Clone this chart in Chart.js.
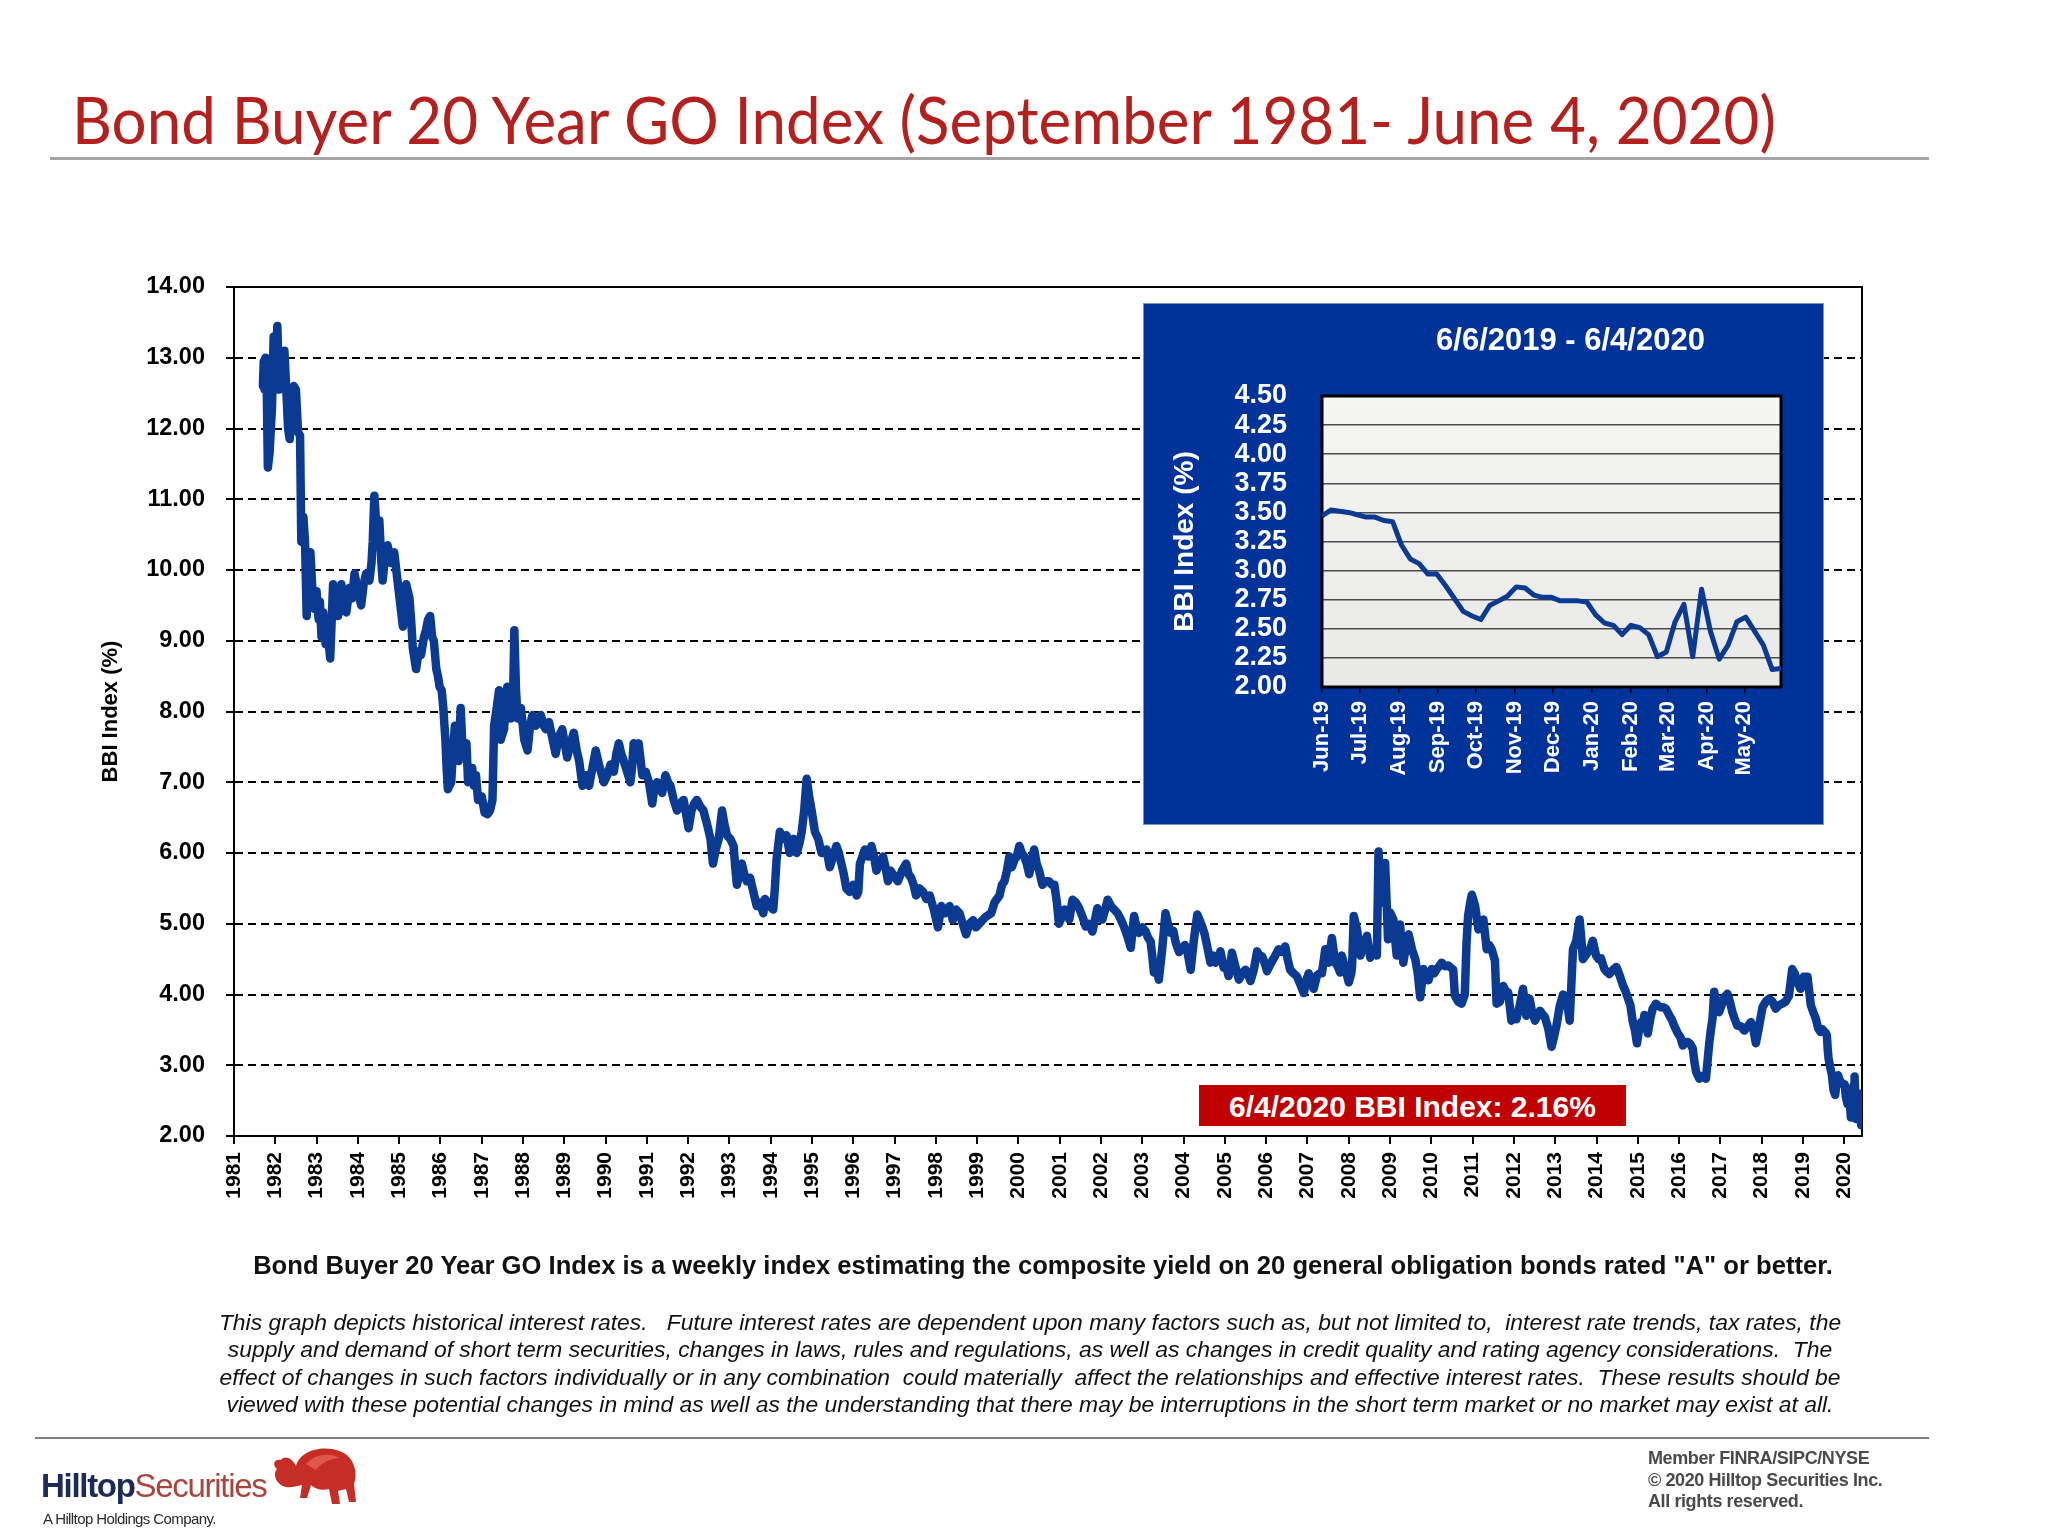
<!DOCTYPE html>
<html>
<head>
<meta charset="utf-8">
<script src="https://cdn.jsdelivr.net/npm/chart.js@4.4.1/dist/chart.umd.min.js"></script>
<style>
  html, body { margin: 0; padding: 0; background: #fff; }
  body { width: 2048px; height: 1536px; position: relative; overflow: hidden; font-family: "Liberation Sans", Arial, sans-serif; }
  #title { position: absolute; left: 72px; top: 86px; color: #b3201e; font-family: Lato, "Open Sans", sans-serif; font-size: 66px; line-height: 66px; white-space: nowrap; transform-origin: left top; display: inline-block; }
  .rule { position: absolute; background: #a6a6a6; }
  #mainChart { position: absolute; left: 0; top: 0; }
  #inset { position: absolute; left: 1144px; top: 304px; width: 679px; height: 520px; background: #003399; box-shadow: 0 0 0 1px #7d93c9; }
  #inset canvas { position: absolute; left: 0; top: 0; }
  #insetTitle { position: absolute; left: 87px; top: 18px; width: 679px; text-align: center; color: #fff; font-weight: bold; font-size: 31px; }
  #lastValue { position: absolute; left: 1199px; top: 1085px; width: 427px; height: 41px; background: #c00000; color: #fff; font-weight: bold; font-size: 30px; line-height: 43px; text-align: center; }
  #note { position: absolute; left: 100px; width: 1886px; top: 1251px; text-align: center; font-weight: bold; font-size: 25.6px; color: #111; white-space: nowrap; }
  #disclaimer { position: absolute; left: 80px; width: 1900px; top: 1309px; text-align: center; font-style: italic; font-size: 22.9px; line-height: 27.4px; color: #111; white-space: nowrap; }
  #logo { position: absolute; left: 41px; top: 1467px; font-size: 33px; letter-spacing: -1.3px; white-space: nowrap; }
  #logo .a { color: #1c2a58; font-weight: bold; }
  #logo .b { color: #a8453c; }
  #logoSub { position: absolute; left: 43px; top: 1510px; font-size: 15px; color: #2a2a2a; letter-spacing: -0.6px; white-space: nowrap; }
  #bison { position: absolute; left: 266px; top: 1444px; }
  #legal { position: absolute; left: 1648px; top: 1448px; font-size: 18px; line-height: 21.5px; color: #4a4a4a; font-weight: bold; letter-spacing: -0.4px; white-space: nowrap; }
</style>
</head>
<body>
<div id="title">Bond Buyer 20 Year GO Index (September 1981- June 4, 2020)</div>
<div class="rule" style="left:50px;top:157px;width:1879px;height:3px;"></div>

<canvas id="mainChart" width="2048" height="1536"></canvas>

<div id="inset">
  <canvas id="insetChart" width="679" height="520"></canvas>
  <div id="insetTitle">6/6/2019 - 6/4/2020</div>
</div>

<div id="lastValue">6/4/2020 BBI Index: 2.16%</div>

<div id="note">Bond Buyer 20 Year GO Index is a weekly index estimating the composite yield on 20 general obligation bonds rated "A" or better.</div>
<div id="disclaimer">This graph depicts historical interest rates.&nbsp;&nbsp; Future interest rates are dependent upon many factors such as, but not limited to,&nbsp; interest rate trends, tax rates, the<br>supply and demand of short term securities, changes in laws, rules and regulations, as well as changes in credit quality and rating agency considerations.&nbsp; The<br>effect of changes in such factors individually or in any combination&nbsp; could materially&nbsp; affect the relationships and effective interest rates.&nbsp; These results should be<br>viewed with these potential changes in mind as well as the understanding that there may be interruptions in the short term market or no market may exist at all.</div>

<div class="rule" style="left:35px;top:1437px;width:1894px;height:2px;background:#7f7f7f;"></div>
<div id="logo"><span class="a">Hilltop</span><span class="b">Securities</span></div>
<div id="logoSub">A Hilltop Holdings Company.</div>
<svg id="bison" width="96" height="64" viewBox="0 0 96 64">
  <path d="M30,22 C34,6 58,0 76,8 C88,14 92,28 88,40 L90,58 L83,58 L80,45 L72,47 L74,60 L66,60 L63,45 C56,47 49,45 45,41 L41,54 L34,54 L36,41 C28,43 21,45 15,41 C9,37 7,29 11,25 C6,21 8,14 15,16 C19,11 26,14 30,22 Z" fill="#c62d25"/>
  <path d="M40,20 C48,10 64,8 74,14 C66,14 56,18 50,26 Z" fill="#e0574c"/>
</svg>
<div id="legal">Member FINRA/SIPC/NYSE<br>© 2020 Hilltop Securities Inc.<br>All rights reserved.</div>

<script>
// ================= DATA =================
// Bond Buyer 20 Year GO Index, [decimal year, percent]
const rates1980s = [
  [1981.70,12.60],[1981.72,12.95],[1981.74,12.55],[1981.76,13.00],[1981.79,12.70],[1981.82,11.45],[1981.86,11.65],[1981.92,12.30],
  [1981.96,13.30],[1982.00,12.80],[1982.05,13.45],[1982.09,12.55],[1982.13,13.05],[1982.17,12.60],[1982.22,13.10],[1982.27,12.50],
  [1982.31,12.00],[1982.35,11.85],[1982.40,12.30],[1982.45,12.60],[1982.50,12.55],[1982.55,11.95],[1982.60,11.90],[1982.63,10.40],
  [1982.68,10.75],[1982.72,10.40],[1982.76,9.35],[1982.81,10.00],[1982.85,10.25],[1982.90,9.70],[1982.95,9.45],[1983.00,9.70],
  [1983.05,9.30],[1983.08,9.55],[1983.12,9.05],[1983.16,9.40],[1983.22,8.95],[1983.27,9.10],[1983.33,8.75],[1983.40,9.80],
  [1983.46,9.40],[1983.52,9.35],[1983.60,9.80],[1983.66,9.50],[1983.72,9.40],[1983.80,9.75],[1983.86,9.60],[1983.92,9.95],
  [1984.00,9.70],[1984.08,9.50],[1984.14,9.80],[1984.20,9.95],[1984.28,9.85],[1984.33,10.10],[1984.36,10.40],[1984.40,11.05],
  [1984.46,10.50],[1984.52,10.70],[1984.57,10.10],[1984.60,9.85],[1984.66,10.20],[1984.72,10.35],[1984.80,10.10],[1984.88,10.25],
  [1984.93,10.00],[1984.97,9.80],[1985.03,9.50],[1985.09,9.20],[1985.13,9.55],[1985.17,9.80],[1985.25,9.60],[1985.30,9.20],
  [1985.33,8.90],[1985.41,8.60],[1985.47,8.85],[1985.53,8.80],[1985.60,9.05],[1985.65,9.15],[1985.70,9.30],[1985.75,9.35],
  [1985.80,9.05],[1985.84,9.00],[1985.90,8.60],[1985.94,8.50],[1985.98,8.35],[1986.03,8.30],[1986.07,8.05],[1986.12,7.60],
  [1986.15,7.20],[1986.18,6.90],[1986.26,7.00],[1986.30,7.40],[1986.35,7.80],[1986.40,7.50],[1986.44,7.30],[1986.49,8.05],
  [1986.54,7.40],[1986.63,7.55],[1986.67,7.00],[1986.72,7.20],[1986.77,7.20],[1986.81,6.95],[1986.86,7.10],[1986.91,6.75],
  [1987.00,6.80],[1987.07,6.57],[1987.14,6.55],[1987.20,6.60],[1987.26,6.75],[1987.30,7.80],[1987.35,8.00],[1987.42,8.30],
  [1987.46,7.60],[1987.54,7.75],[1987.62,8.35],[1987.70,7.90],[1987.76,8.20],[1987.79,9.15],[1987.83,8.30],[1987.87,7.90],
  [1987.95,8.05],[1988.03,7.60],[1988.11,7.45],[1988.17,7.80],[1988.23,7.95],[1988.31,7.80],[1988.37,7.90],[1988.43,7.95],
  [1988.50,7.80],[1988.55,7.75],[1988.63,7.85],[1988.70,7.65],[1988.79,7.40],[1988.87,7.65],[1988.95,7.75],[1989.01,7.55],
  [1989.07,7.35],[1989.15,7.55],[1989.23,7.70],[1989.30,7.45],[1989.36,7.30],[1989.44,6.95],[1989.52,7.10],[1989.60,6.95],
  [1989.68,7.20],[1989.76,7.45],[1989.84,7.25],[1989.96,7.00]
];
const rates1990s = [
  [1990.04,7.10],[1990.12,7.25],[1990.20,7.15],[1990.26,7.40],[1990.32,7.55],[1990.38,7.40],[1990.44,7.30],[1990.52,7.15],
  [1990.60,7.00],[1990.64,7.20],[1990.68,7.55],[1990.74,7.35],[1990.80,7.55],[1990.85,7.30],[1990.89,7.10],[1990.97,7.15],
  [1991.05,7.00],[1991.13,6.70],[1991.19,6.95],[1991.25,7.00],[1991.31,6.95],[1991.37,6.85],[1991.45,7.10],[1991.51,7.00],
  [1991.57,6.95],[1991.65,6.75],[1991.73,6.60],[1991.80,6.70],[1991.89,6.75],[1991.95,6.55],[1992.01,6.35],[1992.08,6.60],
  [1992.15,6.70],[1992.21,6.75],[1992.30,6.65],[1992.37,6.60],[1992.46,6.40],[1992.54,6.20],[1992.60,5.85],[1992.67,6.05],
  [1992.74,6.20],[1992.82,6.60],[1992.88,6.40],[1992.94,6.25],[1993.02,6.20],[1993.10,6.10],[1993.14,5.80],[1993.18,5.55],
  [1993.24,5.70],[1993.30,5.85],[1993.36,5.70],[1993.42,5.60],[1993.50,5.65],[1993.58,5.45],[1993.66,5.25],[1993.74,5.30],
  [1993.82,5.15],[1993.86,5.35],[1993.92,5.30],[1993.98,5.25],[1994.06,5.20],[1994.10,5.50],[1994.14,5.90],[1994.22,6.30],
  [1994.30,6.20],[1994.38,6.25],[1994.46,6.00],[1994.55,6.20],[1994.63,6.00],[1994.70,6.15],[1994.75,6.30],[1994.81,6.60],
  [1994.87,7.05],[1994.93,6.80],[1994.99,6.60],[1995.07,6.30],[1995.15,6.20],[1995.23,6.00],[1995.35,6.05],[1995.43,5.80],
  [1995.51,5.95],[1995.59,6.10],[1995.65,6.00],[1995.71,5.85],[1995.77,5.70],[1995.83,5.50],[1995.91,5.45],[1996.00,5.55],
  [1996.08,5.40],[1996.12,5.45],[1996.16,5.85],[1996.22,5.95],[1996.28,6.05],[1996.36,5.95],[1996.44,6.10],[1996.50,5.95],
  [1996.56,5.75],[1996.64,5.85],[1996.72,5.95],[1996.78,5.80],[1996.84,5.60],[1996.90,5.75],[1996.96,5.70],[1997.02,5.65],
  [1997.08,5.60],[1997.18,5.75],[1997.28,5.85],[1997.34,5.70],[1997.40,5.65],[1997.46,5.55],[1997.52,5.40],[1997.60,5.50],
  [1997.69,5.45],[1997.77,5.35],[1997.85,5.40],[1997.95,5.20],[1998.05,4.95],[1998.13,5.25],[1998.22,5.15],[1998.33,5.25],
  [1998.41,5.05],[1998.49,5.20],[1998.57,5.15],[1998.65,5.00],[1998.73,4.85],[1998.81,5.00],[1998.90,5.05],[1998.97,4.95],
  [1999.05,5.00],[1999.13,5.05],[1999.21,5.10],[1999.34,5.15],[1999.42,5.30],[1999.48,5.35],[1999.54,5.40],[1999.60,5.55],
  [1999.66,5.60],[1999.72,5.75],[1999.78,5.95],[1999.84,5.80],[1999.90,5.90],[1999.96,5.95]
];
const rates2000s = [
  [2000.02,6.10],[2000.08,6.00],[2000.14,5.95],[2000.20,5.85],[2000.26,5.70],[2000.32,5.90],[2000.38,6.05],[2000.44,5.85],
  [2000.50,5.75],[2000.58,5.55],[2000.66,5.60],[2000.74,5.60],[2000.81,5.55],[2000.87,5.55],[2000.93,5.30],[2000.98,5.00],
  [2001.05,5.10],[2001.11,5.20],[2001.17,5.15],[2001.23,5.06],[2001.31,5.34],[2001.39,5.30],[2001.47,5.22],[2001.55,5.10],
  [2001.63,4.96],[2001.71,5.00],[2001.79,4.89],[2001.85,5.05],[2001.91,5.22],[2001.97,5.15],[2002.03,5.06],[2002.10,5.20],
  [2002.16,5.34],[2002.24,5.25],[2002.32,5.20],[2002.40,5.15],[2002.48,5.06],[2002.56,4.95],[2002.64,4.82],[2002.72,4.66],
  [2002.80,5.11],[2002.86,4.95],[2002.92,4.87],[2003.00,4.95],[2003.08,4.89],[2003.14,4.80],[2003.20,4.75],[2003.24,4.55],
  [2003.28,4.31],[2003.34,4.40],[2003.40,4.21],[2003.48,4.64],[2003.56,5.15],[2003.62,5.00],[2003.69,4.87],[2003.75,4.90],
  [2003.81,4.73],[2003.89,4.60],[2003.97,4.66],[2004.03,4.70],[2004.09,4.61],[2004.17,4.35],[2004.25,4.78],[2004.33,5.13],
  [2004.39,5.05],[2004.45,4.96],[2004.51,4.85],[2004.57,4.68],[2004.65,4.45],[2004.71,4.55],[2004.77,4.45],[2004.83,4.50],
  [2004.89,4.61],[2004.97,4.38],[2005.03,4.40],[2005.09,4.26],[2005.17,4.59],[2005.25,4.40],[2005.34,4.21],[2005.42,4.30],
  [2005.50,4.35],[2005.56,4.28],[2005.62,4.19],[2005.70,4.35],[2005.78,4.61],[2005.84,4.55],[2005.90,4.54],[2005.96,4.45],
  [2006.02,4.33],[2006.08,4.40],[2006.14,4.47],[2006.22,4.55],[2006.30,4.64],[2006.38,4.60],[2006.46,4.68],[2006.52,4.50],
  [2006.58,4.35],[2006.66,4.30],[2006.74,4.26],[2006.82,4.15],[2006.91,4.02],[2006.97,4.20],[2007.03,4.30],[2007.09,4.15],
  [2007.15,4.08],[2007.23,4.27],[2007.30,4.30],[2007.35,4.30],[2007.43,4.64],[2007.51,4.45],[2007.59,4.80],[2007.67,4.45],
  [2007.73,4.40],[2007.79,4.31],[2007.83,4.55],[2007.92,4.36],[2008.00,4.17],[2008.06,4.30],[2008.08,4.40],[2008.12,5.11],
  [2008.20,4.92],[2008.28,4.55],[2008.36,4.69],[2008.44,4.83],[2008.52,4.52],[2008.60,4.64],[2008.68,4.55],[2008.72,6.02],
  [2008.76,5.60],[2008.80,5.30],[2008.88,5.86],[2008.95,4.78],[2009.00,5.16],[2009.08,5.06],[2009.16,4.55],[2009.24,4.99],
  [2009.32,4.45],[2009.39,4.70],[2009.45,4.85],[2009.53,4.64],[2009.61,4.50],[2009.67,4.30],[2009.73,3.96],[2009.81,4.36],
  [2009.87,4.25],[2009.93,4.20]
];
const rates2010s = [
  [2010.01,4.36],[2010.07,4.30],[2010.13,4.36],[2010.19,4.40],[2010.25,4.45],[2010.33,4.40],[2010.41,4.41],[2010.47,4.38],
  [2010.53,4.35],[2010.57,3.98],[2010.65,3.90],[2010.73,3.87],[2010.81,4.00],[2010.85,4.71],[2010.89,5.11],[2010.94,5.30],
  [2010.98,5.41],[2011.06,5.25],[2011.14,4.92],[2011.20,5.00],[2011.26,5.06],[2011.34,4.64],[2011.40,4.70],[2011.46,4.64],
  [2011.54,4.48],[2011.58,3.87],[2011.66,3.90],[2011.74,4.12],[2011.80,4.05],[2011.86,4.03],[2011.94,3.63],[2012.00,3.70],
  [2012.06,3.65],[2012.14,3.85],[2012.22,4.08],[2012.30,3.70],[2012.38,3.94],[2012.44,3.75],[2012.51,3.63],[2012.57,3.70],
  [2012.63,3.77],[2012.69,3.72],[2012.75,3.68],[2012.83,3.52],[2012.91,3.26],[2012.97,3.40],[2013.03,3.56],[2013.11,3.84],
  [2013.19,4.00],[2013.27,3.95],[2013.35,3.63],[2013.43,4.64],[2013.51,4.76],[2013.59,5.06],[2013.63,4.80],[2013.67,4.50],
  [2013.71,4.53],[2013.79,4.60],[2013.85,4.65],[2013.91,4.76],[2013.99,4.55],[2014.05,4.50],[2014.11,4.51],[2014.19,4.36],
  [2014.25,4.32],[2014.31,4.29],[2014.40,4.35],[2014.48,4.39],[2014.56,4.27],[2014.64,4.13],[2014.70,4.05],[2014.76,3.95],
  [2014.82,3.85],[2014.88,3.61],[2014.93,3.50],[2014.98,3.31],[2015.03,3.50],[2015.08,3.61],[2015.12,3.55],[2015.16,3.71],
  [2015.20,3.60],[2015.24,3.45],[2015.30,3.65],[2015.36,3.80],[2015.44,3.87],[2015.50,3.84],[2015.56,3.82],[2015.62,3.82],
  [2015.68,3.80],[2015.76,3.71],[2015.82,3.65],[2015.88,3.56],[2015.97,3.45],[2016.03,3.40],[2016.09,3.28],[2016.15,3.33],
  [2016.21,3.33],[2016.27,3.30],[2016.33,3.24],[2016.37,3.05],[2016.41,2.91],[2016.49,2.81],[2016.57,2.85],[2016.65,2.81],
  [2016.73,3.31],[2016.77,3.50],[2016.81,3.66],[2016.85,4.04],[2016.91,3.85],[2016.97,3.75],[2017.03,3.85],[2017.09,3.96],
  [2017.17,4.01],[2017.23,3.90],[2017.29,3.75],[2017.35,3.65],[2017.41,3.56],[2017.50,3.55],[2017.58,3.49],[2017.66,3.55],
  [2017.74,3.61],[2017.80,3.50],[2017.86,3.31],[2017.94,3.56],[2018.02,3.82],[2018.10,3.90],[2018.18,3.94],[2018.26,3.90],
  [2018.34,3.80],[2018.42,3.85],[2018.50,3.87],[2018.58,3.90],[2018.66,3.98],[2018.74,4.36],[2018.80,4.30],[2018.86,4.18],
  [2018.94,4.08],[2019.02,4.25],[2019.11,4.25],[2019.19,3.85],[2019.25,3.75],[2019.31,3.66],[2019.37,3.52],[2019.43,3.47],
  [2019.47,3.51],[2019.51,3.48],[2019.55,3.46],[2019.58,3.42],[2019.60,3.22],[2019.62,3.10],[2019.66,2.97],[2019.70,2.87],
  [2019.74,2.65],[2019.78,2.58],[2019.81,2.74],[2019.85,2.86],[2019.89,2.79],[2019.95,2.74],[2020.01,2.73],[2020.04,2.55],
  [2020.08,2.45],[2020.10,2.53],[2020.14,2.45],[2020.16,2.26],[2020.18,2.30],[2020.22,2.71],[2020.24,2.26],[2020.25,2.84],
  [2020.29,2.24],[2020.35,2.60],[2020.39,2.36],[2020.41,2.15],[2020.43,2.16]
];
const yearTicks = [1981,1982,1983,1984,1985,1986,1987,1988,1989,1990,1991,1992,1993,1994,1995,1996,1997,1998,1999,2000,
  2001,2002,2003,2004,2005,2006,2007,2008,2009,2010,2011,2012,2013,2014,2015,2016,2017,2018,2019,2020];

// inset: weekly values 6/6/2019 - 6/4/2020
const insetWeekly = [3.47,3.52,3.51,3.50,3.48,3.46,3.46,3.43,3.42,3.22,3.10,3.06,2.97,2.97,2.87,2.76,2.65,2.61,2.58,2.70,
  2.74,2.78,2.86,2.85,2.79,2.77,2.77,2.74,2.74,2.74,2.73,2.62,2.55,2.53,2.45,2.53,2.51,2.45,2.26,2.30,
  2.56,2.71,2.26,2.84,2.48,2.24,2.36,2.56,2.60,2.48,2.36,2.15,2.16];
const insetMonthLabels = ["Jun-19","Jul-19","Aug-19","Sep-19","Oct-19","Nov-19","Dec-19","Jan-20","Feb-20","Mar-20","Apr-20","May-20"];
const insetMonthDays = [0,30,61,92,122,153,183,214,245,274,305,335];

// ================= HELPERS =================
const FONT = '"Liberation Sans", Arial, sans-serif';

const framePlugin = {
  id: "frame",
  beforeDraw(chart, args, opts) {
    if (!opts.fill) return;
    const { ctx, chartArea: a } = chart;
    const g = ctx.createLinearGradient(0, a.top, 0, a.bottom);
    g.addColorStop(0, opts.fill[0]);
    g.addColorStop(1, opts.fill[1]);
    ctx.save();
    ctx.fillStyle = g;
    ctx.fillRect(a.left, a.top, a.right - a.left, a.bottom - a.top);
    ctx.restore();
  },
  beforeDatasetsDraw(chart, args, opts) {
    const { ctx, chartArea: a } = chart;
    ctx.save();
    ctx.strokeStyle = opts.color || "#000";
    ctx.lineWidth = opts.width || 2;
    ctx.strokeRect(a.left, a.top, a.right - a.left, a.bottom - a.top);
    ctx.restore();
  }
};

// ================= MAIN CHART =================
const mainSeries = rates1980s.concat(rates1990s, rates2000s, rates2010s);

new Chart(document.getElementById("mainChart"), {
  type: "line",
  data: {
    datasets: [{
      data: mainSeries.map(p => ({ x: p[0], y: p[1] })),
      borderColor: "#0b3a93",
      borderWidth: 8.5,
      pointRadius: 0,
      tension: 0,
      borderJoinStyle: "round",
      borderCapStyle: "round"
    }]
  },
  options: {
    responsive: false,
    animation: false,
    events: [],
    layout: { padding: { left: 94, right: 186, top: 287, bottom: 300 } },
    plugins: {
      legend: { display: false },
      tooltip: { enabled: false },
      frame: { color: "#000", width: 2 }
    },
    scales: {
      x: {
        type: "linear",
        min: 1981,
        max: 2020.43,
        afterBuildTicks: s => { s.ticks = yearTicks.map(v => ({ value: v })); },
        afterFit: s => { s.height = 100; },
        ticks: {
          autoSkip: false,
          minRotation: 90,
          maxRotation: 90,
          padding: 8,
          color: "#000",
          font: { family: FONT, size: 21, weight: "bold" },
          callback: v => String(v)
        },
        grid: { drawOnChartArea: false, drawTicks: true, tickLength: 8, color: "#000", lineWidth: 2 },
        border: { color: "#000", width: 2 }
      },
      y: {
        min: 2,
        max: 14,
        afterFit: s => { s.width = 140; },
        ticks: {
          stepSize: 1,
          padding: 21,
          color: "#000",
          font: { family: FONT, size: 23.5, weight: "bold" },
          callback: v => v.toFixed(2)
        },
        grid: { color: "#000", lineWidth: 2, tickLength: 8 },
        border: { color: "#000", width: 2, dash: [8, 5] },
        title: {
          display: true,
          text: "BBI Index (%)",
          color: "#000",
          padding: { top: 4, bottom: 0 },
          font: { family: FONT, size: 22, weight: "bold" }
        }
      }
    }
  },
  plugins: [framePlugin]
});

// ================= INSET CHART =================
new Chart(document.getElementById("insetChart"), {
  type: "line",
  data: {
    datasets: [{
      data: insetWeekly.map((v, i) => ({ x: i * 7, y: v })),
      borderColor: "#0b3a93",
      borderWidth: 5,
      pointRadius: 0,
      tension: 0,
      borderJoinStyle: "round"
    }]
  },
  options: {
    responsive: false,
    animation: false,
    events: [],
    layout: { padding: { left: 24, right: 42, top: 92, bottom: 37 } },
    plugins: {
      legend: { display: false },
      tooltip: { enabled: false },
      frame: { color: "#000", width: 3, fill: ["#f5f6f4", "#e9eae8"] }
    },
    scales: {
      x: {
        type: "linear",
        min: 0,
        max: 364,
        afterBuildTicks: s => { s.ticks = insetMonthDays.map(v => ({ value: v })); },
        afterFit: s => { s.height = 100; },
        ticks: {
          autoSkip: false,
          minRotation: 90,
          maxRotation: 90,
          padding: 8,
          color: "#fff",
          font: { family: FONT, size: 22, weight: "bold" },
          callback: (v, i) => insetMonthLabels[i]
        },
        grid: { drawOnChartArea: false, drawTicks: true, tickLength: 6, color: "#000", lineWidth: 1.5 },
        border: { display: false }
      },
      y: {
        min: 2,
        max: 4.5,
        afterFit: s => { s.width = 154; },
        ticks: {
          stepSize: 0.25,
          autoSkip: false,
          padding: 35,
          color: "#fff",
          font: { family: FONT, size: 27, weight: "bold", lineHeight: 1 },
          callback: v => v.toFixed(2)
        },
        grid: { color: "#4a4a4a", lineWidth: 1.5, drawTicks: false },
        border: { display: false },
        title: {
          display: true,
          text: "BBI Index (%)",
          color: "#fff",
          padding: { top: 0, bottom: 0 },
          font: { family: FONT, size: 28, weight: "bold" }
        }
      }
    }
  },
  plugins: [framePlugin]
});

// fit the title to its width in the slide
const title = document.getElementById("title");
title.style.transform = "scaleX(" + (1704 / title.scrollWidth) + ")";
</script>
</body>
</html>
